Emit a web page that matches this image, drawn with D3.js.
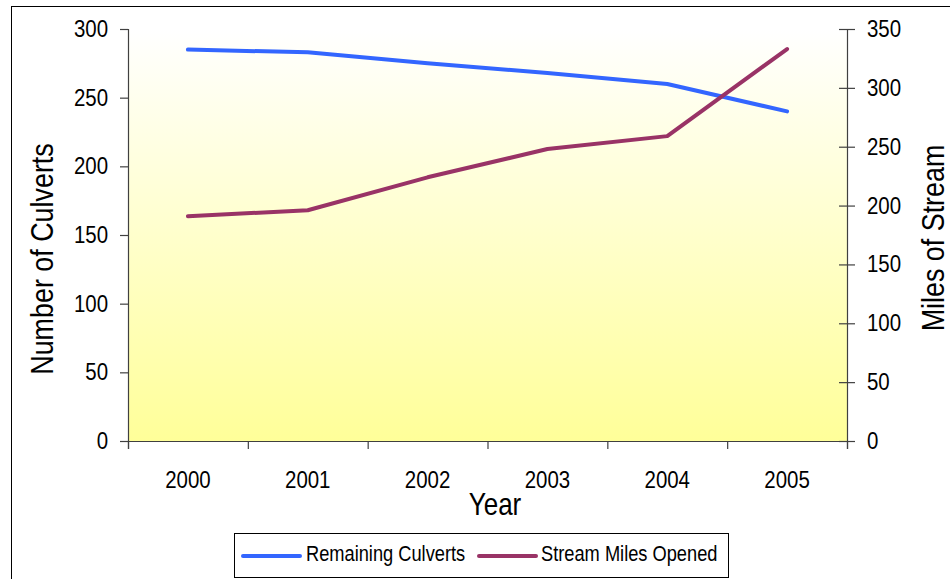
<!DOCTYPE html>
<html>
<head>
<meta charset="utf-8">
<script src="https://cdn.jsdelivr.net/npm/d3@7"></script>
<style>
  html, body { margin: 0; padding: 0; background: #fff; }
  svg { display: block; }
  text { font-family: "Liberation Sans", Arial, sans-serif; fill: #000; }
</style>
</head>
<body>
<svg id="chart" width="950" height="579"></svg>
<script>
// Culvert replacement program, 2000–2005
const years = ["2000", "2001", "2002", "2003", "2004", "2005"];
const remainingCulverts = [285, 283, 275, 268, 260, 240];
const streamMilesOpened = [191, 196, 224, 248, 259, 333];
const leftTicks = [0, 50, 100, 150, 200, 250, 300];
const rightTicks = [0, 50, 100, 150, 200, 250, 300, 350];
const seriesNames = ["Remaining Culverts", "Stream Miles Opened"];
const seriesColors = ["#3366ff", "#993366"];

const svg = d3.select("#chart");
const plot = { left: 128, right: 847, top: 29, bottom: 441 };

// Horizontal condensing for a narrow-face look, anchored at each text's x
function condense(sel, s) {
  sel.each(function () {
    const t = d3.select(this);
    const x0 = +t.attr("x") || 0;
    const prev = t.attr("transform") || "";
    t.attr("transform", `${prev} translate(${x0},0) scale(${s},1) translate(${-x0},0)`);
  });
}

// Outer chart frame
svg.append("rect")
  .attr("x", 11.5).attr("y", 6.5)
  .attr("width", 960).attr("height", 600)
  .attr("fill", "#fff").attr("stroke", "#000").attr("stroke-width", 1);

// Plot area gradient: white at top fading to pale yellow
const defs = svg.append("defs");
const grad = defs.append("linearGradient")
  .attr("id", "plotFill").attr("x1", 0).attr("y1", 0).attr("x2", 0).attr("y2", 1);
grad.append("stop").attr("offset", "0%").attr("stop-color", "#ffffff");
grad.append("stop").attr("offset", "100%").attr("stop-color", "#ffff99");

svg.append("rect")
  .attr("x", plot.left).attr("y", plot.top)
  .attr("width", plot.right - plot.left).attr("height", plot.bottom - plot.top)
  .attr("fill", "url(#plotFill)");

// Scales
const x = d3.scaleBand().domain(years).range([plot.left, plot.right]).padding(0);
const xEdge = d3.scaleLinear().domain([0, years.length]).range([plot.left, plot.right]);
const yLeft = d3.scaleLinear().domain([0, 300]).range([plot.bottom, plot.top]);
const yRight = d3.scaleLinear().domain([0, 350]).range([plot.bottom, plot.top]);
const cx = d => x(d) + x.bandwidth() / 2;

const axisColor = "#404040";
const tickFont = 23.5;
const squeeze = 0.87;

// Left axis
const gL = svg.append("g").attr("transform", `translate(${plot.left},0)`)
  .call(d3.axisLeft(yLeft).tickValues(leftTicks).tickSize(8).tickPadding(12));
// Right axis (ticks cross the axis line)
const gR = svg.append("g").attr("transform", `translate(${plot.right},0)`)
  .call(d3.axisRight(yRight).tickValues(rightTicks).tickSize(8).tickPadding(12));
gR.selectAll(".tick line").attr("x1", -8);

// Bottom axis: tick marks at category boundaries, labels at centres
const gB = svg.append("g").attr("transform", `translate(0,${plot.bottom})`)
  .call(d3.axisBottom(xEdge).tickValues(d3.range(years.length + 1)).tickSize(8).tickFormat(""));
const gBL = svg.append("g").attr("transform", `translate(0,${plot.bottom})`)
  .call(d3.axisBottom(x).tickSize(0).tickPadding(30));
gBL.select(".domain").remove();

[gL, gR, gB].forEach(g => {
  g.select(".domain").attr("stroke", axisColor).attr("stroke-width", 1.2);
  g.selectAll(".tick line").attr("stroke", axisColor).attr("stroke-width", 1.2);
});
[gL, gR, gBL].forEach(g => {
  g.selectAll(".tick text")
    .attr("font-family", "\"Liberation Sans\", Arial, sans-serif")
    .attr("font-size", tickFont).attr("fill", "#000")
    .call(condense, squeeze);
});

// Axis titles
svg.append("text")
  .attr("transform", `translate(53,259) rotate(-90) scale(0.84,1)`)
  .attr("text-anchor", "middle").attr("font-size", 32)
  .text("Number of Culverts");
svg.append("text")
  .attr("transform", `translate(944,238) rotate(-90) scale(0.84,1)`)
  .attr("text-anchor", "middle").attr("font-size", 32)
  .text("Miles of Stream");
svg.append("text")
  .attr("transform", `translate(495,515) scale(0.84,1)`)
  .attr("text-anchor", "middle").attr("font-size", 31)
  .text("Year");

// Series lines
const series = [
  { values: remainingCulverts, y: yLeft },
  { values: streamMilesOpened, y: yRight }
];
series.forEach((s, i) => {
  const line = d3.line()
    .x((d, j) => cx(years[j]))
    .y(d => s.y(d));
  svg.append("path")
    .datum(s.values)
    .attr("d", line)
    .attr("fill", "none")
    .attr("stroke", seriesColors[i])
    .attr("stroke-width", 4)
    .attr("stroke-linecap", "round")
    .attr("stroke-linejoin", "round");
});

// Legend
const legend = svg.append("g");
legend.append("rect")
  .attr("x", 234.5).attr("y", 533.5).attr("width", 494).attr("height", 44)
  .attr("fill", "#fff").attr("stroke", "#000").attr("stroke-width", 1);
const legendItems = [
  { x: 243, textX: 306 },
  { x: 479, textX: 541 }
];
legendItems.forEach((item, i) => {
  legend.append("line")
    .attr("x1", item.x).attr("x2", item.x + 57)
    .attr("y1", 556).attr("y2", 556)
    .attr("stroke", seriesColors[i]).attr("stroke-width", 4)
    .attr("stroke-linecap", "round");
  legend.append("text")
    .attr("x", item.textX).attr("y", 561)
    .attr("font-size", 22)
    .text(seriesNames[i])
    .call(condense, 0.83);
});
</script>
</body>
</html>
